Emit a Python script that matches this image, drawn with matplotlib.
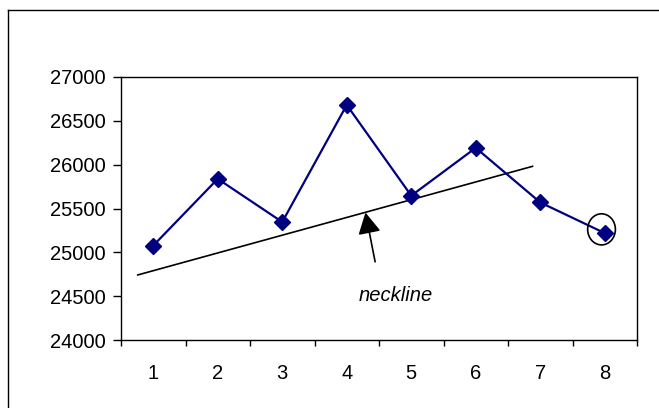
# plot.py - head and shoulders chart with neckline (excel style)

import matplotlib
matplotlib.use("Agg")
import matplotlib.pyplot as plt
from matplotlib.patches import Ellipse
from matplotlib.lines import Line2D

plt.rcParams["font.family"] = ["Liberation Sans", "DejaVu Sans"]

periods = [1, 2, 3, 4, 5, 6, 7, 8]
prices = [25077, 25838, 25346, 26681, 25646, 26192, 25569, 25219]
y_ticks = [24000, 24500, 25000, 25500, 26000, 26500, 27000]

# neckline end points (x in category units, y in price)
neck_x = [0.76, 6.88]
neck_y = [24742, 25981]
label_text = "neckline"

fig = plt.figure(figsize=(6.59, 4.08), dpi=100)
ax = fig.add_axes([121 / 659, 1 - 340 / 408, 516 / 659, 263 / 408])

ax.plot(periods, prices, color="#000080", lw=1.6, marker="D", ms=8.5,
        mec="#000080", mfc="#000080", zorder=3)
ax.plot(neck_x, neck_y, color="black", lw=1.2, zorder=2)

ax.annotate("", xy=(4.29, 25454), xytext=(4.44, 24892),
            arrowprops=dict(arrowstyle="-|>,head_length=1.3,head_width=0.7",
                            mutation_scale=10, color="black", lw=1.2,
                            shrinkA=0, shrinkB=0))
ax.text(4.76, 24508, label_text, fontsize=14.5, style="italic",
        ha="center", va="center")

# circle round the last point
ax.add_patch(Ellipse((7.95, 25262), 0.43, 355, fill=False,
                     edgecolor="black", lw=1.2, zorder=4))

ax.set_xlim(0.5, 8.5)
ax.set_ylim(24000, 27000)
ax.set_yticks(y_ticks)
ax.set_yticklabels([str(v) for v in y_ticks], fontsize=14.5)
ax.set_xticks([p + 0.5 for p in [0] + periods])
ax.set_xticklabels([])
ax.set_xticks(periods, minor=True)
ax.set_xticklabels([str(p) for p in periods], minor=True, fontsize=14.5)
ax.tick_params(axis="x", which="major", length=4.5, width=1, direction="out")
ax.tick_params(axis="x", which="minor", length=0, pad=17)
ax.tick_params(axis="y", length=6, width=1, direction="out", pad=5)
for s in ax.spines.values():
    s.set_linewidth(1)

# outer chart border (only left and top visible)
fig.add_artist(Line2D([8 / 659, 8 / 659], [0, 1 - 10 / 408],
                      color="black", lw=1, transform=fig.transFigure))
fig.add_artist(Line2D([8 / 659, 1], [1 - 10 / 408, 1 - 10 / 408],
                      color="black", lw=1, transform=fig.transFigure))

fig.savefig("out.png", dpi=100)
